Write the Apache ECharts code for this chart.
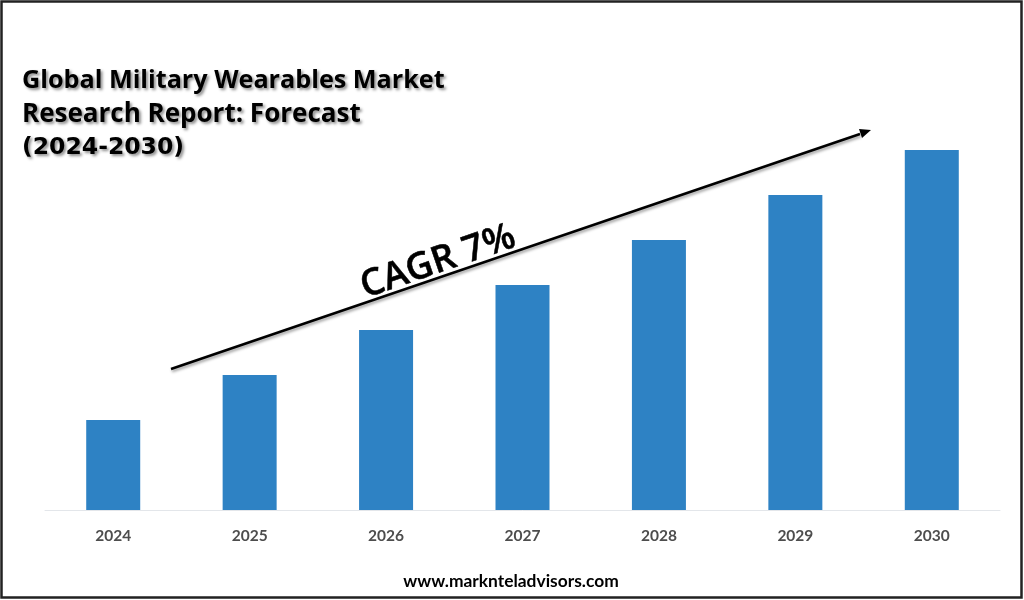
<!DOCTYPE html>
<html>
<head>
<meta charset="utf-8">
<style>
  html, body { margin: 0; padding: 0; background: #fff; }
  #chart-wrapper { width: 1024px; height: 600px; }
</style>
<script src="https://cdn.jsdelivr.net/npm/echarts@6/dist/echarts.min.js"></script>
</head>
<body>
<div id="chart-wrapper"></div>
<script>
const years = ['2024', '2025', '2026', '2027', '2028', '2029', '2030']
const marketValues = [2, 3, 4, 5, 6, 7, 8]
const titleLines = ['Global Military Wearables Market', 'Research Report: Forecast', '(2024-2030)']
const cagrLabel = 'CAGR 7%'
const sourceLabel = 'www.marknteladvisors.com'

const chart = echarts.init(document.getElementById('chart-wrapper'))

const titleShadow = {
  color: '#000',
  fontWeight: 'bold',
  lineHeight: 33.5,
  textShadowColor: 'rgba(0,0,0,0.45)',
  textShadowBlur: 3,
  textShadowOffsetX: 2,
  textShadowOffsetY: 2
}

const option = {
  backgroundColor: '#fff',
  animation: false,
  title: {
    text: `{a|${titleLines[0]}}\n{b|${titleLines[1]}}\n{c|${titleLines[2]}}`,
    left: 17,
    top: 59,
    textStyle: {
      rich: {
        a: { ...titleShadow, fontFamily: 'Open Sans', fontSize: 25.2 },
        b: { ...titleShadow, fontFamily: 'Open Sans', fontSize: 26 },
        c: { ...titleShadow, fontFamily: 'DejaVu Sans', fontSize: 23.5 }
      }
    }
  },
  grid: { left: 45, right: 24, top: 60, bottom: 90 },
  xAxis: {
    type: 'category',
    data: years,
    axisLine: { lineStyle: { color: '#e3e6ea', width: 1 } },
    axisTick: { show: false },
    axisLabel: {
      margin: 18,
      fontFamily: 'Lato',
      fontWeight: 'bold',
      fontSize: 15.5,
      color: '#4d4d4d'
    }
  },
  yAxis: { type: 'value', min: 0, max: 10, show: false },
  series: [
    {
      type: 'bar',
      data: marketValues,
      barWidth: 54,
      itemStyle: { color: '#2e82c4' }
    }
  ],
  graphic: [
    {
      type: 'rect',
      silent: true,
      shape: { x: 1.5, y: 1.5, width: 1020, height: 596 },
      style: { fill: 'none', stroke: '#222', lineWidth: 2.5 }
    },
    {
      type: 'line',
      silent: true,
      shape: { x1: 171, y1: 369, x2: 860, y2: 134 },
      style: {
        stroke: '#000',
        lineWidth: 2.5,
        shadowColor: 'rgba(0,0,0,0.4)',
        shadowBlur: 3,
        shadowOffsetX: 1,
        shadowOffsetY: 2
      }
    },
    {
      type: 'polygon',
      silent: true,
      shape: { points: [[871, 130], [859, 129], [862, 138]] },
      style: { fill: '#000' }
    },
    {
      type: 'text',
      silent: true,
      x: 438,
      y: 262,
      rotation: 18.9 * Math.PI / 180,
      style: {
        text: cagrLabel,
        fontFamily: 'Open Sans',
        fontWeight: 600,
        fontSize: 37,
        fill: '#000',
        stroke: '#000',
        lineWidth: 0.5,
        align: 'center',
        verticalAlign: 'middle'
      }
    },
    {
      type: 'text',
      silent: true,
      x: 511,
      y: 581,
      style: {
        text: sourceLabel,
        fontFamily: 'Lato',
        fontWeight: 'bold',
        fontSize: 17.4,
        fill: '#000',
        align: 'center',
        verticalAlign: 'middle'
      }
    }
  ]
}

chart.setOption(option)
</script>
</body>
</html>
